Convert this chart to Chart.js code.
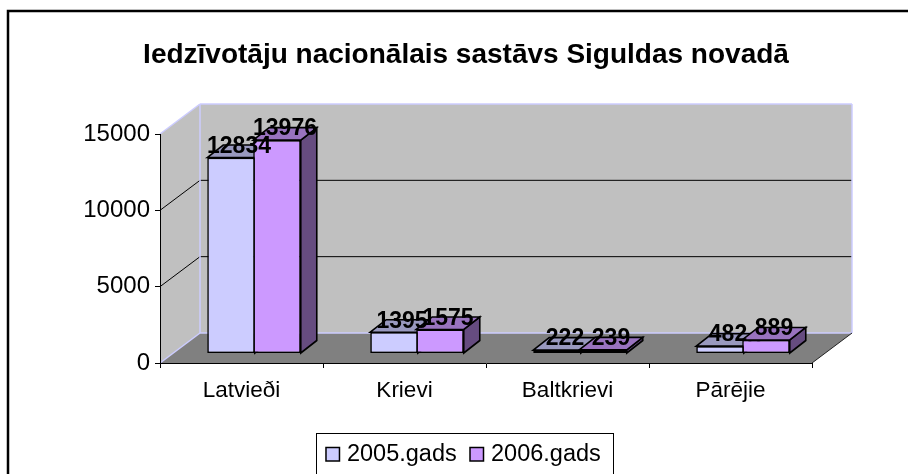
<!DOCTYPE html>
<html><head><meta charset="utf-8">
<style>html,body{margin:0;padding:0;background:#fff}canvas{display:block}</style>
<script src="https://cdn.jsdelivr.net/npm/chart.js@4"></script></head>
<body><div style="width:908px;height:474px"><canvas id="c" width="908" height="474"></canvas></div>
<script>
const titleText = "Iedzīvotāju nacionālais sastāvs Siguldas novadā";
const categories = ["Latvieði", "Krievi", "Baltkrievi", "Pārējie"];
const series2005 = [12834, 1395, 222, 482];
const series2006 = [13976, 1575, 239, 889];
const seriesNames = ["2005.gads", "2006.gads"];
const colors = ["#CCCCFF", "#CC99FF"];
const topColors = ["#9999BF", "#9973BF"];
const sideColors = ["#666680", "#664C80"];
const yTicks = [0, 5000, 10000, 15000];

const WALL = {dx: 40, dy: -30};
const FRONT = {dx: 12.5, dy: -9.5};
const DEPTH = {dx: 16, dy: -12.5};
const LINE = 1.6;
const FONT = "'Liberation Sans', Arial, sans-serif";

function poly(ctx, pts, fill, stroke, lw) {
  ctx.beginPath();
  pts.forEach((p, i) => i ? ctx.lineTo(p[0], p[1]) : ctx.moveTo(p[0], p[1]));
  ctx.closePath();
  if (fill) { ctx.fillStyle = fill; ctx.fill(); }
  if (stroke) { ctx.strokeStyle = stroke; ctx.lineWidth = lw; ctx.lineJoin = 'miter'; ctx.stroke(); }
}
function line(ctx, x1, y1, x2, y2, c, lw) {
  ctx.beginPath(); ctx.moveTo(x1, y1); ctx.lineTo(x2, y2);
  ctx.strokeStyle = c; ctx.lineWidth = lw; ctx.stroke();
}

const scene = {
  id: 'scene',
  afterLayout(chart) {
    chart.titleBlock.left = 466 - 440; chart.titleBlock.right = 466 + 440;
    const lg = chart.legend, h = lg.height;
    lg.left = 463 - 300; lg.right = 463 + 300;
    lg.top = 453.5 - h / 2; lg.bottom = lg.top + h;
    lg.adjustHitBoxes();
  },
  beforeDraw(chart) {
    const ctx = chart.ctx, a = chart.chartArea, y = chart.scales.y;
    ctx.save();
    ctx.fillStyle = '#fff'; ctx.fillRect(0, 0, chart.width, chart.height);
    ctx.strokeStyle = '#000'; ctx.lineWidth = 2.5;
    ctx.strokeRect(8, 11, 1200, 1200);
    const L = a.left, R = a.right, T = a.top, B = a.bottom, dx = WALL.dx, dy = WALL.dy;
    poly(ctx, [[L + dx, T + dy], [R + dx, T + dy], [R + dx, B + dy], [L + dx, B + dy]], '#C0C0C0');
    poly(ctx, [[L, T], [L + dx, T + dy], [L + dx, B + dy], [L, B]], '#C0C0C0');
    poly(ctx, [[L, B], [L + dx, B + dy], [R + dx, B + dy], [R, B]], '#808080');
    yTicks.slice(1, -1).forEach(v => {
      const py = y.getPixelForValue(v);
      line(ctx, L, py, L + dx, py + dy, '#000', 1);
      line(ctx, L + dx, py + dy, R + dx, py + dy, '#000', 1);
    });
    const edge = '#CCCCFF';
    line(ctx, L, T, L + dx, T + dy, edge, 1.5);
    line(ctx, L + dx, T + dy, R + dx, T + dy, edge, 1.5);
    line(ctx, L + dx, T + dy, L + dx, B + dy, edge, 1.5);
    line(ctx, R + dx, T + dy, R + dx, B + dy, edge, 1.5);
    line(ctx, L + dx, B + dy, R + dx, B + dy, edge, 1.5);
    line(ctx, L, B, L + dx, B + dy, edge, 1.5);
    line(ctx, R, B, R + dx, B + dy, '#222', 1);
    ctx.restore();
  },
  beforeDatasetsDraw(chart) {
    const ctx = chart.ctx;
    ctx.save();
    ctx.translate(FRONT.dx, FRONT.dy);
    [0, 1].forEach(i => chart.getDatasetMeta(i).data.forEach(bar => {
      const p = bar.getProps(['x', 'y', 'base', 'width'], true);
      const l = p.x - p.width / 2, r = p.x + p.width / 2, t = p.y, b = p.base;
      poly(ctx, [[r, t], [r + DEPTH.dx, t + DEPTH.dy], [r + DEPTH.dx, b + DEPTH.dy], [r, b]], sideColors[i], '#000', LINE);
      poly(ctx, [[l, t], [l + DEPTH.dx, t + DEPTH.dy], [r + DEPTH.dx, t + DEPTH.dy], [r, t]], topColors[i], '#000', LINE);
    }));
    ctx.restore();
  },
  beforeDatasetDraw(chart) {
    chart.ctx.save();
    chart.ctx.translate(FRONT.dx, FRONT.dy);
  },
  afterDatasetDraw(chart) { chart.ctx.restore(); },
  afterDraw(chart) {
    const ctx = chart.ctx;
    ctx.save();
    ctx.strokeStyle = '#000'; ctx.lineWidth = 1;
    ctx.strokeRect(316.5, 433.5, 297, 100);
    chart.legend.legendHitBoxes.forEach((h, i) => {
      ctx.fillStyle = colors[i];
      ctx.fillRect(h.left + 0.75, 447.5, 13.5, 13.5);
      ctx.strokeStyle = '#000'; ctx.lineWidth = 1.5;
      ctx.strokeRect(h.left + 0.75, 447.5, 13.5, 13.5);
    });
    ctx.font = "bold 23px " + FONT;
    ctx.fillStyle = '#000'; ctx.textAlign = 'center'; ctx.textBaseline = 'middle';
    chart.data.datasets.forEach((ds, i) => {
      chart.getDatasetMeta(i).data.forEach((bar, j) => {
        const p = bar.getProps(['x', 'y'], true);
        ctx.fillText(String(ds.data[j]), p.x + FRONT.dx + 8, p.y + FRONT.dy - 11);
      });
    });
    ctx.restore();
  }
};

new Chart(document.getElementById('c'), {
  type: 'bar',
  data: {
    labels: categories,
    datasets: [
      {label: seriesNames[0], data: series2005, backgroundColor: colors[0], borderColor: '#000', borderWidth: LINE, borderSkipped: false, inflateAmount: 0},
      {label: seriesNames[1], data: series2006, backgroundColor: colors[1], borderColor: '#000', borderWidth: LINE, borderSkipped: false, inflateAmount: 0}
    ]
  },
  plugins: [scene],
  options: {
    responsive: false, animation: false, devicePixelRatio: 1,
    layout: {padding: {left: 0, right: 96, top: 0, bottom: 0}},
    datasets: {bar: {categoryPercentage: 0.564, barPercentage: 1.035}},
    scales: {
      x: {
        border: {color: '#000', width: 1},
        grid: {drawOnChartArea: false, color: '#000', tickLength: 5, offset: true},
        ticks: {color: '#000', font: {family: FONT, size: 22.5}, padding: 9, maxRotation: 0},
        afterFit(s) { s.height = 111 - s.chart.legend.height; }
      },
      y: {
        min: 0, max: 15000,
        border: {color: '#000', width: 1},
        grid: {drawOnChartArea: false, color: '#000', tickLength: 5},
        ticks: {color: '#000', font: {family: FONT, size: 24}, stepSize: 5000, padding: 5,
          callback: v => String(v)},
        afterFit(s) { s.width = 160; }
      }
    },
    plugins: {
      title: {display: true, text: titleText, color: '#000', font: {family: FONT, size: 28, weight: 'bold'}, padding: {top: 38, bottom: 62.4}},
      legend: {display: true, position: 'bottom',
        labels: {color: '#000', font: {family: FONT, size: 23.5}, boxWidth: 10, boxHeight: 10, padding: 12.5,
          generateLabels: chart => chart.data.datasets.map((d, i) => ({
            text: d.label, datasetIndex: i, fontColor: '#000', fillStyle: 'rgba(0,0,0,0)', strokeStyle: 'rgba(0,0,0,0)', lineWidth: 0
          }))
        }},
      tooltip: {enabled: false}
    }
  }
});
</script></body></html>
